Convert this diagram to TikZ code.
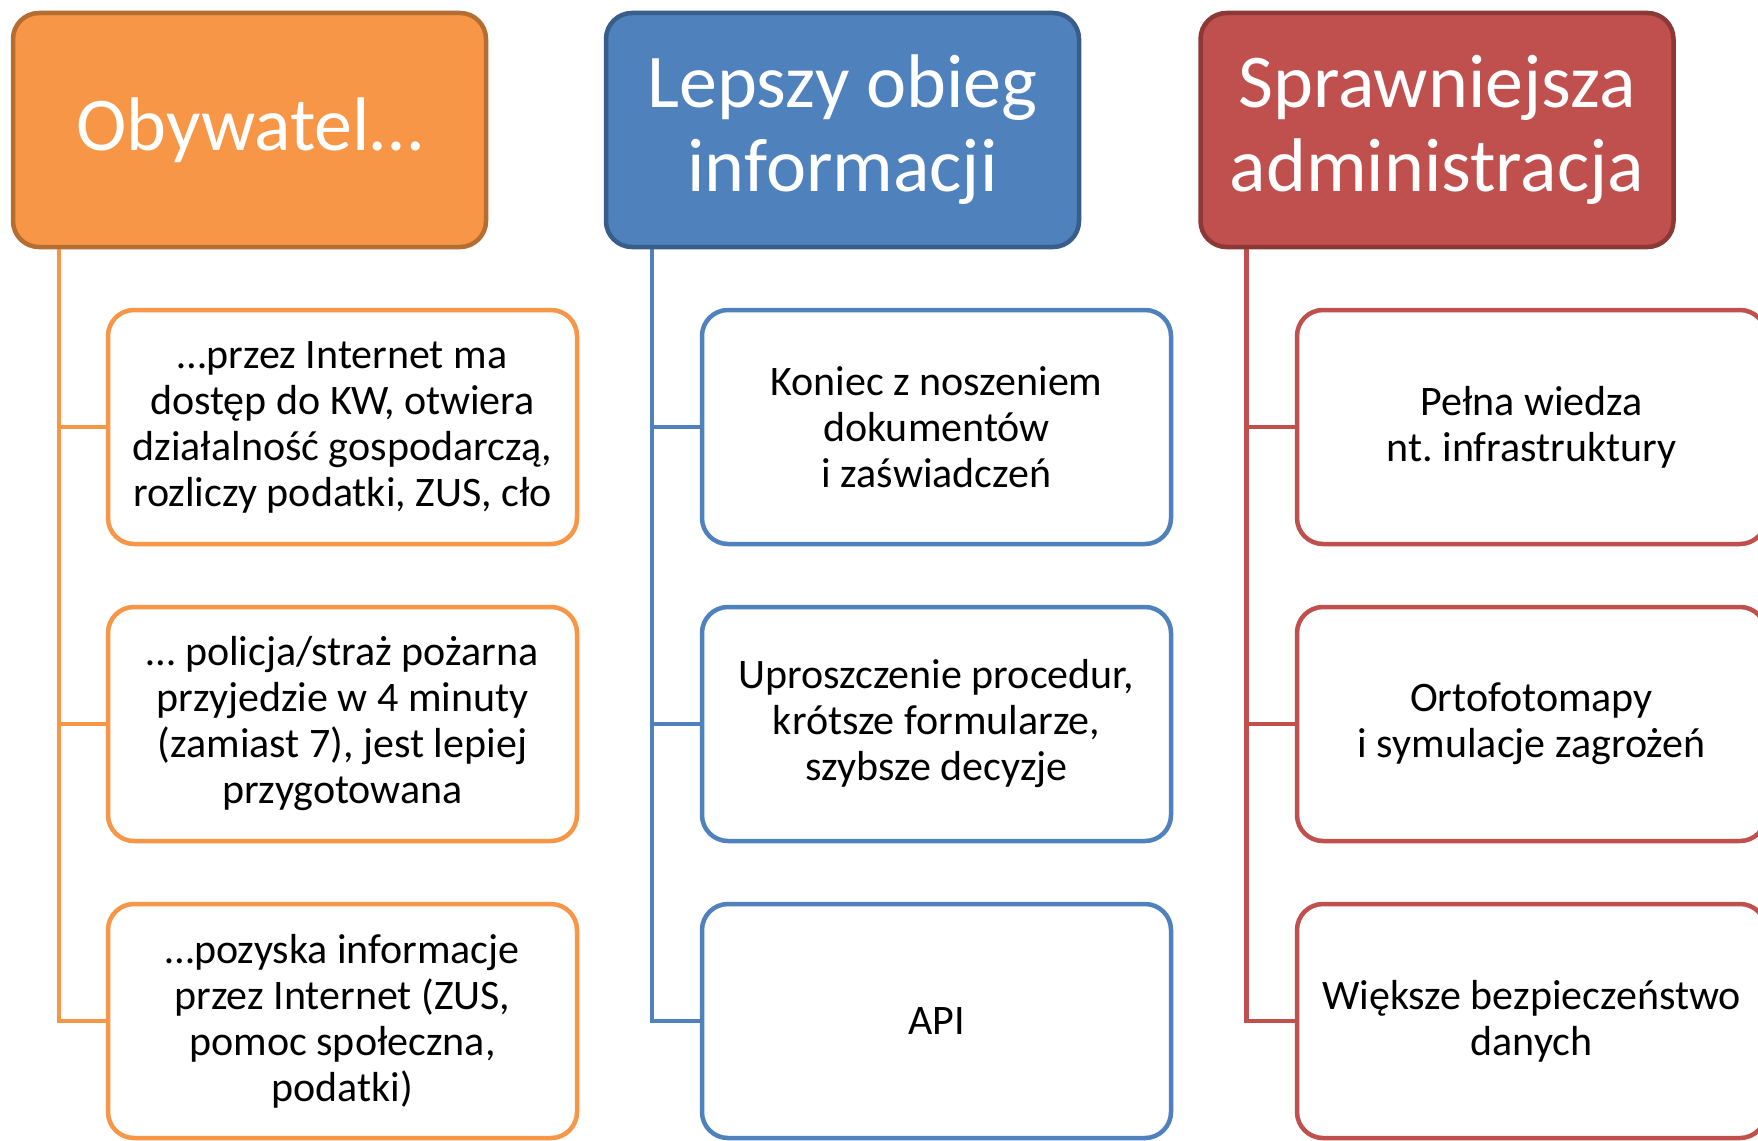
\documentclass[tikz,border=0pt]{standalone}
\usepackage{fontspec}
\setmainfont{Carlito}
\usetikzlibrary{backgrounds}
\definecolor{orfill}{HTML}{F79646}
\definecolor{orline}{HTML}{B66D31}
\definecolor{blfill}{HTML}{4F81BD}
\definecolor{blline}{HTML}{385D8A}
\definecolor{rdfill}{HTML}{C0504D}
\definecolor{rdline}{HTML}{8C3836}
\frenchspacing
\begin{document}
\begin{tikzpicture}[x=1pt,y=-1pt,
  hdr/.style={rectangle, rounded corners=26pt, line width=4.5pt,
    minimum width=473pt, minimum height=234pt, text=white, align=center,
    font=\fontsize{76}{84}\selectfont, inner sep=0pt},
  item/.style={rectangle, rounded corners=26pt, line width=4.5pt, fill=white,
    minimum width=469pt, minimum height=234pt, align=center, text=black,
    font=\fontsize{42}{46}\selectfont, inner sep=0pt},
  conn/.style={line width=4.5pt}]
\useasboundingbox (0,0) rectangle (1758,1140);

% headers
\node[hdr, fill=orfill, draw=orline] (h1) at (249.5,130) {Obywatel…};
\node[hdr, fill=blfill, draw=blline] (h2) at (842.5,130) {Lepszy obieg\\informacji};
\node[hdr, fill=rdfill, draw=rdline] (h3) at (1437,130) {Sprawniejsza\\administracja};

% column 1
\node[item, draw=orfill] (c11) at (342.5,427) {…przez Internet ma\\dostęp do KW, otwiera\\działalność gospodarczą,\\rozliczy podatki, ZUS, cło};
\node[item, draw=orfill] (c12) at (342.5,724) {… policja/straż pożarna\\przyjedzie w 4 minuty\\(zamiast 7), jest lepiej\\przygotowana};
\node[item, draw=orfill] (c13) at (342.5,1021) {…pozyska informacje\\przez Internet (ZUS,\\pomoc społeczna,\\podatki)};

% column 2
\node[item, draw=blfill] (c21) at (936.5,427) {Koniec z noszeniem\\dokumentów\\i zaświadczeń};
\node[item, draw=blfill] (c22) at (936.5,724) {Uproszczenie procedur,\\krótsze formularze,\\szybsze decyzje};
\node[item, draw=blfill] (c23) at (936.5,1021) {API};

% column 3
\node[item, draw=rdfill] (c31) at (1531.5,427) {Pełna wiedza\\nt. infrastruktury};
\node[item, draw=rdfill] (c32) at (1531.5,724) {Ortofotomapy\\i symulacje zagrożeń};
\node[item, draw=rdfill] (c33) at (1531.5,1021) {Większe bezpieczeństwo\\danych};

\coordinate (s1) at ([xshift=48pt]h1.south west);
\coordinate (s2) at ([xshift=48pt]h2.south west);
\coordinate (s3) at ([xshift=48pt]h3.south west);

\begin{scope}[on background layer]
\fill[white] (0,0) rectangle (1758,1140);
\draw[conn, draw=orfill] (s1) |- (c11.west);
\draw[conn, draw=orfill] (s1) |- (c12.west);
\draw[conn, draw=orfill] (s1) |- (c13.west);
\draw[conn, draw=blfill] (s2) |- (c21.west);
\draw[conn, draw=blfill] (s2) |- (c22.west);
\draw[conn, draw=blfill] (s2) |- (c23.west);
\draw[conn, draw=rdfill] (s3) |- (c31.west);
\draw[conn, draw=rdfill] (s3) |- (c32.west);
\draw[conn, draw=rdfill] (s3) |- (c33.west);
\end{scope}
\end{tikzpicture}
\end{document}
